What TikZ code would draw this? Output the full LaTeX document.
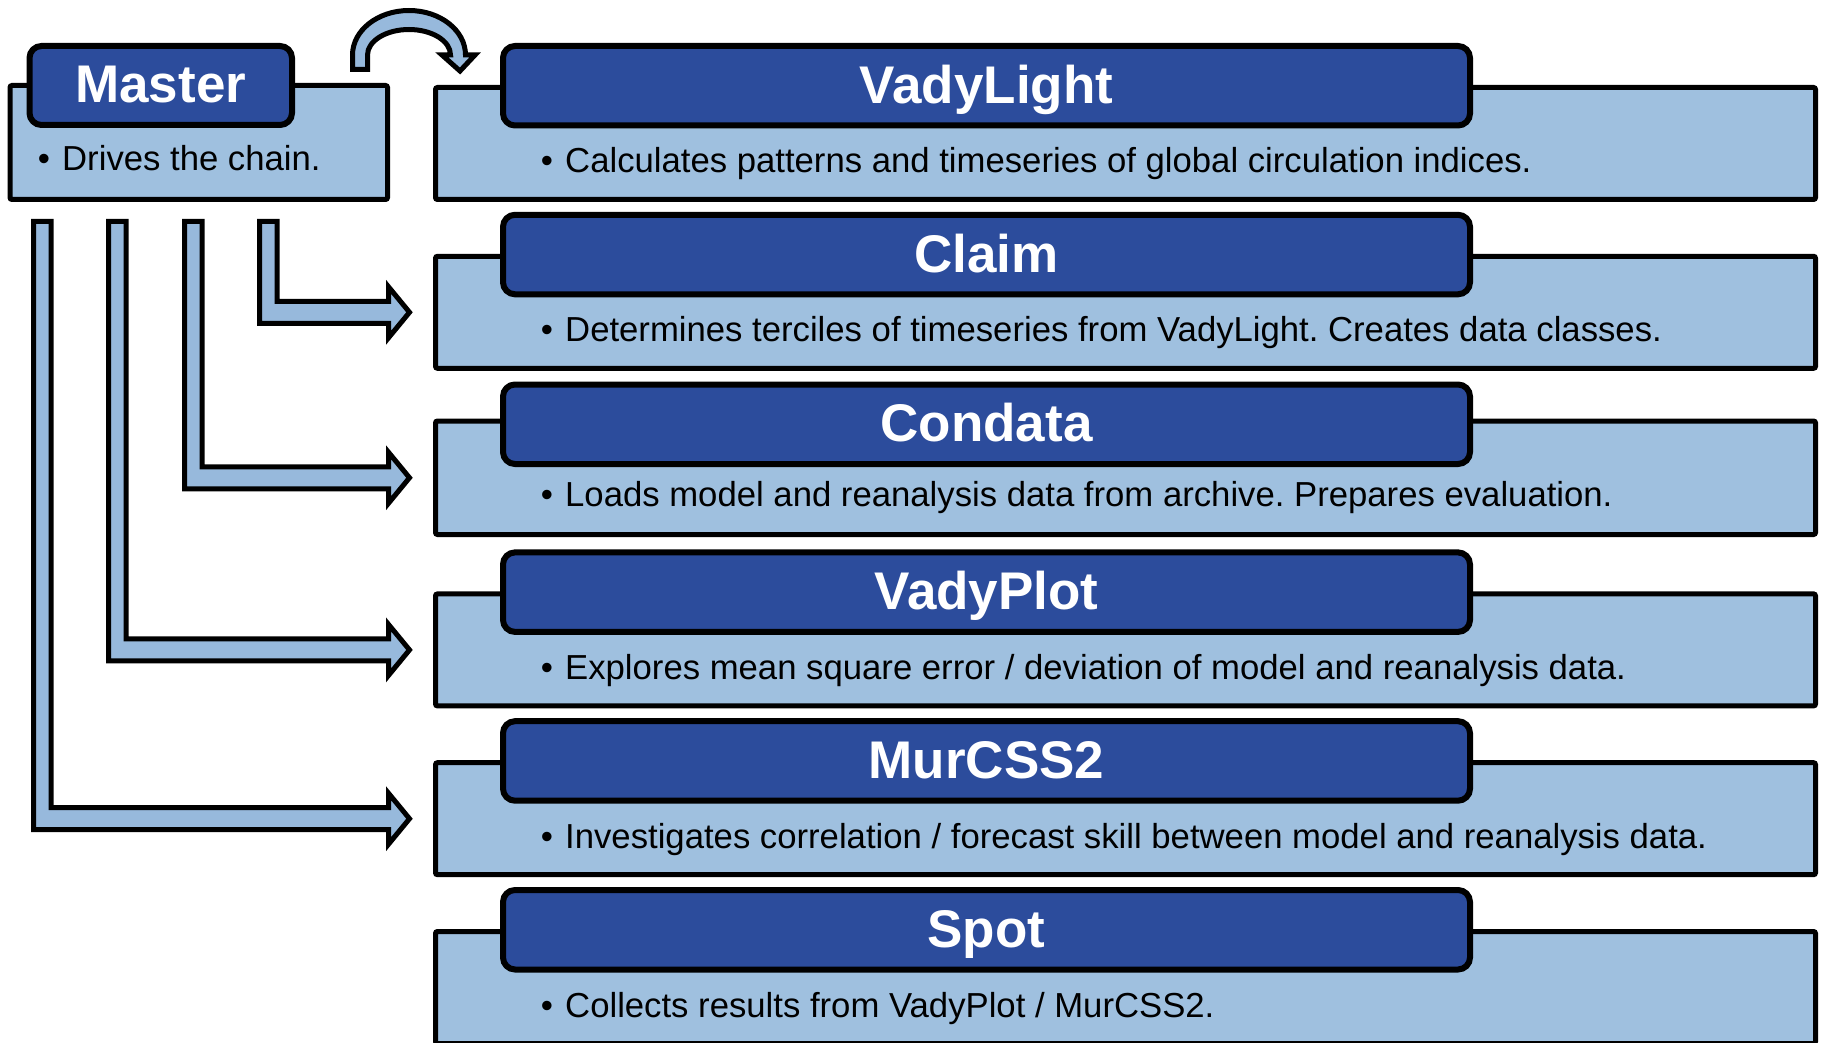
\documentclass[tikz,border=0pt]{standalone}
\usepackage{fontspec}
\setmainfont{Liberation Sans}
\usetikzlibrary{calc}
\definecolor{darkblue}{HTML}{2C4C9C}
\definecolor{lightblue}{HTML}{9FC0DF}
\definecolor{arrowblue}{HTML}{97B9DC}
\tikzset{
  lightbox/.style={rectangle, draw=black, line width=5pt, fill=lightblue, rounded corners=2pt,
    inner sep=0pt, outer sep=0pt, anchor=north west, minimum width=1380pt, minimum height=112pt},
  darkbox/.style={rectangle, draw=black, line width=6pt, fill=darkblue, rounded corners=12pt,
    inner sep=0pt, outer sep=0pt, anchor=north west, minimum width=967pt, minimum height=79.5pt},
  titletext/.style={text=white, font=\fontsize{53}{53}\selectfont\bfseries, anchor=base, inner sep=0pt},
  bodytext/.style={text=black, font=\fontsize{34.7}{34.7}\selectfont\frenchspacing, anchor=base west, inner sep=0pt},
  fatarrow/.style={draw=black, line width=5pt, fill=arrowblue, line join=miter},
}
\newcommand\bul{\makebox[24.4pt][l]{\textbullet}}
\newcommand\bentarrow[2]{%
  \draw[fatarrow] let \p1=($(#2.west)+(-26pt,0)$) in
    (#1,221.5) -- (#1+17.5,221.5) -- (#1+17.5,\y1+11pt) -- (\x1-21pt,\y1+11pt)
    -- (\x1-21pt,\y1+25.5pt) -- (\p1) -- (\x1-21pt,\y1-25.5pt) -- (\x1-21pt,\y1-11pt)
    -- (#1,\y1-11pt) -- cycle;}
\begin{document}
\frenchspacing
\begin{tikzpicture}[x=1pt,y=-1pt]
\useasboundingbox[fill=white] (0,0) rectangle (1821,1043);

% Master
\node[lightbox, minimum width=377.5pt, minimum height=114pt] (masterL) at (10,85.5) {};
\node[darkbox, minimum width=262.5pt, minimum height=79pt] (masterD) at (29.5,46) {};
\node[titletext] (masterT) at (160.75,103) {Master};
\node[bodytext] (masterB) at (37.6,171) {\bul Drives the chain.};

% light boxes
\node[lightbox] (vlL) at (435.5,87.5) {};
\node[lightbox] (claimL) at (435.5,256.3) {};
\node[lightbox, minimum height=113.5pt] (condataL) at (435.5,421) {};
\node[lightbox] (vadyplotL) at (435.5,593.9) {};
\node[lightbox] (murcssL) at (435.5,762.7) {};
\node[lightbox] (spotL) at (435.5,931.5) {};

% dark title boxes
\node[darkbox] (vlD) at (503,46) {};
\node[darkbox] (claimD) at (503,214.8) {};
\node[darkbox] (condataD) at (503,384.5) {};
\node[darkbox] (vadyplotD) at (503,552.4) {};
\node[darkbox] (murcssD) at (503,721.2) {};
\node[darkbox] (spotD) at (503,890) {};

% titles
\node[titletext] (vlT) at (986.5,103.5) {VadyLight};
\node[titletext] (claimT) at (986.5,272.3) {Claim};
\node[titletext] (condataT) at (986.5,441.6) {Condata};
\node[titletext] (vadyplotT) at (986.5,609.9) {VadyPlot};
\node[titletext] (murcssT) at (986.5,778.7) {MurCSS2};
\node[titletext] (spotT) at (986.5,947.5) {Spot};

% body texts
\node[bodytext] (vlB) at (540.6,173) {\bul Calculates patterns and timeseries of global circulation indices.};
\node[bodytext] (claimB) at (540.6,341.8) {\bul Determines terciles of timeseries from VadyLight. Creates data classes.};
\node[bodytext] (condataB) at (540.6,506) {\bul Loads model and reanalysis data from archive. Prepares evaluation.};
\node[bodytext] (vadyplotB) at (540.6,679.4) {\bul Explores mean square error / deviation of model and reanalysis data.};
\node[bodytext] (murcssB) at (540.6,848.2) {\bul Investigates correlation / forecast skill between model and reanalysis data.};
\node[bodytext] (spotB) at (540.6,1017) {\bul Collects results from VadyPlot / MurCSS2.};

% curved arrow Master -> VadyLight
\draw[fatarrow] (352.5,69.5) -- (352.5,55)
  arc[start angle=180, end angle=0, x radius=56.5pt, y radius=44.5pt]
  -- (475,55) -- (460,71) -- (442,55) -- (450.5,55)
  arc[start angle=0, end angle=180, x radius=41.5pt, y radius=25.5pt]
  -- (367.5,69.5) -- cycle;

% bent arrows from Master
\bentarrow{259.5}{claimL}
\bentarrow{184.5}{condataL}
\bentarrow{108.5}{vadyplotL}
\bentarrow{33.5}{murcssL}
\end{tikzpicture}
\end{document}
